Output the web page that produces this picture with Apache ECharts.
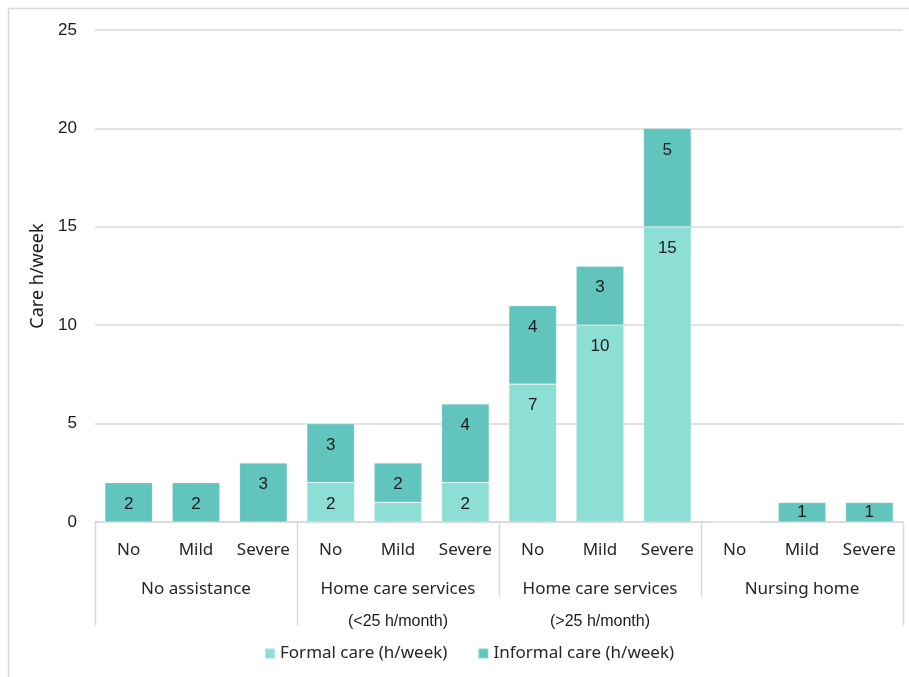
<!DOCTYPE html>
<html>
<head>
<meta charset="utf-8">
<script src="https://cdn.jsdelivr.net/npm/echarts@6/dist/echarts.min.js"></script>
<style>
html,body{margin:0;padding:0;background:#fff;}
#chart{width:909px;height:677px;}
</style>
</head>
<body>
<div id="chart"></div>
<script>
// ---- data ----
const levels = ['No', 'Mild', 'Severe', 'No', 'Mild', 'Severe', 'No', 'Mild', 'Severe', 'No', 'Mild', 'Severe'];
const groups = ['No assistance', 'Home care services', 'Home care services', 'Nursing home'];
const subGroups = ['', '(<25 h/month)', '(>25 h/month)', ''];
const formalCare = [0, 0, 0, 2, 1, 2, 7, 10, 15, 0, 0, 0];
const informalCare = [2, 2, 3, 3, 2, 4, 4, 3, 5, 0, 1, 1];
const formalLabelShown = [false, false, false, true, false, true, true, true, true, false, false, false];
const yTicks = [0, 5, 10, 15, 20, 25];

const textColor = '#262626';
const sepColor = '#d9d9d9';
const catFont = '"Noto Sans", "Liberation Sans", sans-serif';
const numFont = '"Liberation Sans", Arial, sans-serif';

const chart = echarts.init(document.getElementById('chart'), null, {renderer: 'canvas'});

const formalData = formalCare.map((v, i) => ({
  value: v,
  label: {show: formalLabelShown[i] && v > 0, position: v < 2 ? 'inside' : 'insideTop'}
}));
const informalData = informalCare.map(v => ({
  value: v,
  label: {show: v > 0, position: v < 2 ? 'inside' : 'insideTop'}
}));

const labelStyle = {
  show: true,
  position: 'insideTop',
  distance: 13,
  color: '#1a1a1a',
  fontSize: 17,
  fontFamily: numFont
};

chart.setOption({
  animation: false,
  backgroundColor: '#fff',
  grid: {left: 95, right: 6, top: 30, bottom: 155, containLabel: false},
  legend: {
    left: 259,
    top: 640,
    itemWidth: 10,
    itemHeight: 10,
    itemGap: 30,
    icon: 'rect',
    textStyle: {fontSize: 17, color: textColor, fontFamily: catFont},
    data: ['Formal care (h/week)', 'Informal care (h/week)']
  },
  xAxis: [
    {
      type: 'category',
      data: levels,
      position: 'bottom',
      axisLine: {show: true, lineStyle: {color: sepColor, width: 1.5}},
      axisTick: {show: false},
      axisLabel: {margin: 20, fontSize: 17, color: textColor, fontFamily: catFont, interval: 0}
    },
    {
      type: 'category',
      data: groups,
      position: 'bottom',
      offset: 0,
      axisLine: {show: false},
      axisTick: {show: false},
      axisLabel: {margin: 59, fontSize: 17, color: textColor, fontFamily: catFont, interval: 0}
    },
    {
      type: 'category',
      data: subGroups,
      position: 'bottom',
      offset: 0,
      axisLine: {show: false},
      axisTick: {show: false},
      axisLabel: {margin: 92, fontSize: 16, color: '#1a1a1a', fontFamily: numFont, interval: 0}
    }
  ],
  yAxis: {
    type: 'value',
    min: 0,
    max: 25,
    interval: 5,
    name: 'Care h/week',
    nameLocation: 'middle',
    nameGap: 41,
    nameRotate: 90,
    nameTextStyle: {fontSize: 18, color: '#1a1a1a', fontFamily: catFont},
    axisLine: {show: false},
    axisTick: {show: false},
    axisLabel: {
      margin: 18, fontSize: 17, color: '#1a1a1a', fontFamily: numFont,
      formatter: v => (yTicks.indexOf(v) >= 0 ? String(v) : '')
    },
    splitLine: {show: true, lineStyle: {color: sepColor, width: 1.5}}
  },
  series: [
    {
      name: 'Formal care (h/week)',
      type: 'bar',
      stack: 'care',
      xAxisIndex: 0,
      barCategoryGap: '29%',
      itemStyle: {color: '#8DDED4', borderColor: 'rgba(255,255,255,0.3)', borderWidth: 0.75},
      label: labelStyle,
      data: formalData
    },
    {
      name: 'Informal care (h/week)',
      type: 'bar',
      stack: 'care',
      xAxisIndex: 0,
      barCategoryGap: '29%',
      itemStyle: {color: '#62C5BD', borderColor: 'rgba(255,255,255,0.3)', borderWidth: 0.75},
      label: labelStyle,
      data: informalData
    }
  ]
});

// separators between category groups, positioned via the axis scale
function drawSeparators() {
  const c0 = chart.convertToPixel({xAxisIndex: 0}, 0);
  const c1 = chart.convertToPixel({xAxisIndex: 0}, 1);
  const band = c1 - c0;
  const y0 = chart.convertToPixel({yAxisIndex: 0}, 0);
  const n = levels.length;
  const perGroup = n / groups.length;
  const lines = [];
  for (let g = 0; g <= groups.length; g++) {
    const idx = Math.min(g * perGroup, n - 1);
    const x = g * perGroup < n ? chart.convertToPixel({xAxisIndex: 0}, idx) - band / 2
                               : chart.convertToPixel({xAxisIndex: 0}, n - 1) + band / 2;
    const long = (g === 0 || g === 1 || g === groups.length);
    lines.push({
      type: 'line',
      shape: {x1: Math.round(x) + 0.5, y1: y0, x2: Math.round(x) + 0.5, y2: y0 + (long ? 103 : 75)},
      style: {stroke: sepColor, lineWidth: 1.5},
      silent: true
    });
  }
  // outer frame (top and left edges visible in the reference)
  lines.push({type: 'line', shape: {x1: 8.5, y1: 8.5, x2: 909, y2: 8.5}, style: {stroke: sepColor, lineWidth: 1.5}, silent: true});
  lines.push({type: 'line', shape: {x1: 8.5, y1: 8.5, x2: 8.5, y2: 677}, style: {stroke: sepColor, lineWidth: 1.5}, silent: true});
  chart.setOption({graphic: lines});
}
drawSeparators();
</script>
</body>
</html>
